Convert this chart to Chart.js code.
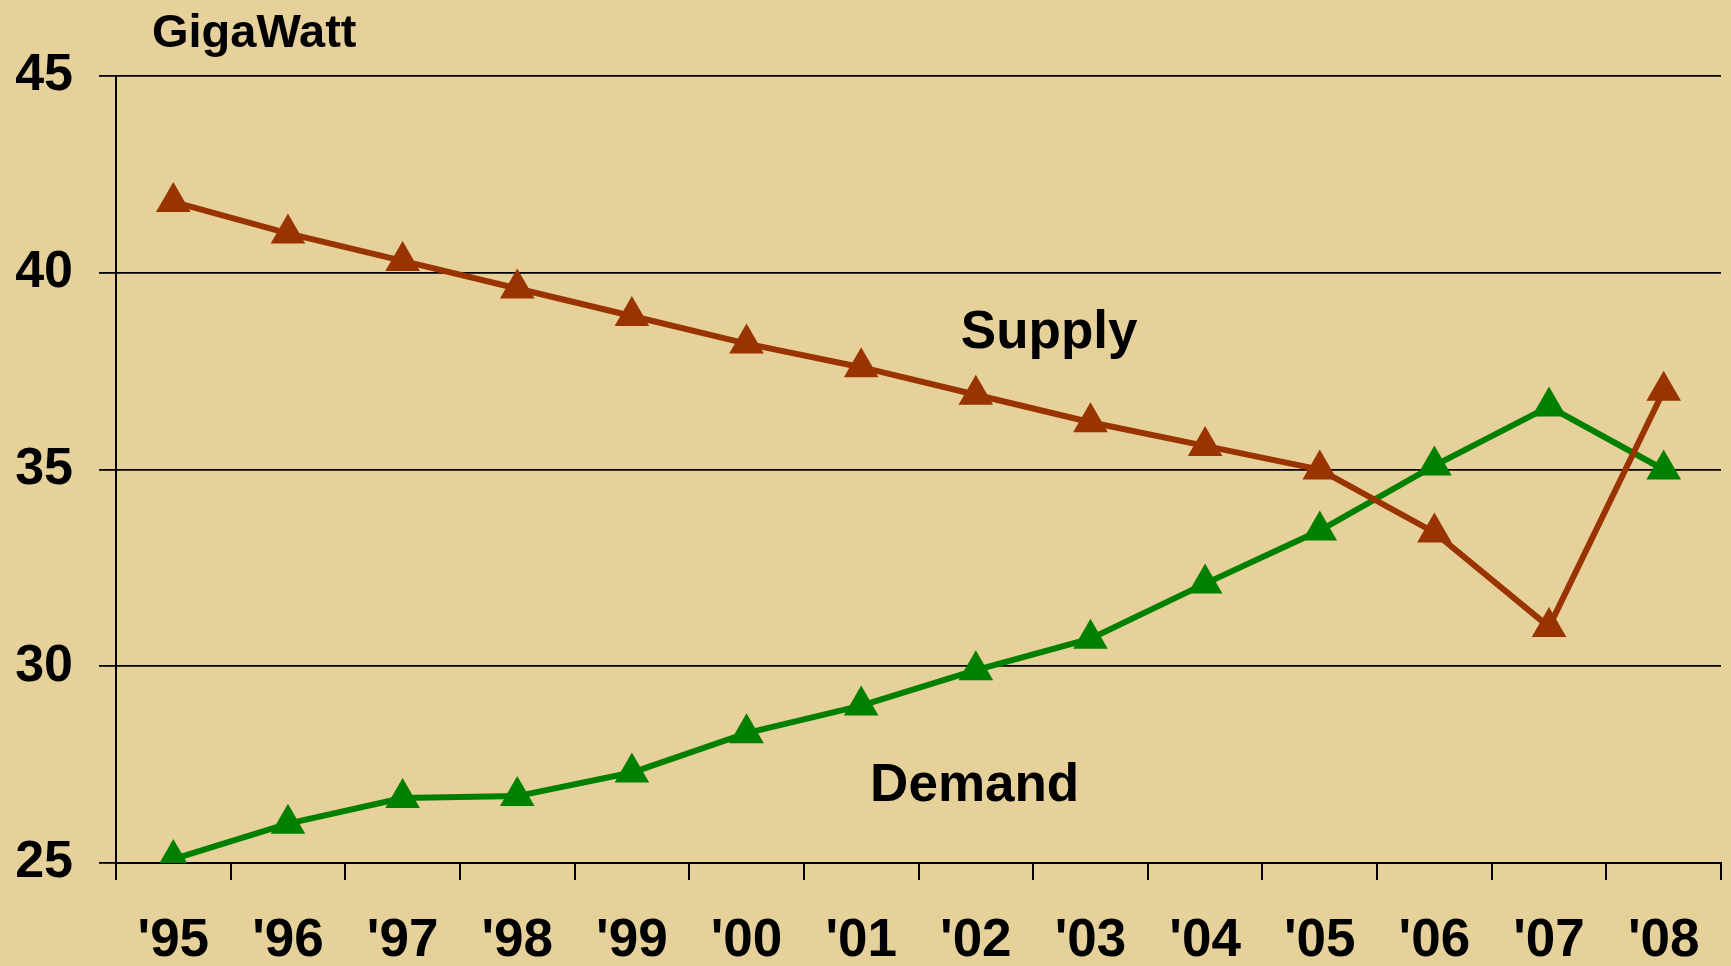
<!DOCTYPE html>
<html>
<head>
<meta charset="utf-8">
<title>Supply and Demand, GigaWatt</title>
<script src="https://cdn.jsdelivr.net/npm/chart.js"></script>
<style>
  html, body { margin: 0; padding: 0; background: #E6D19A; }
  #wrap { width: 1731px; height: 966px; }
</style>
</head>
<body>
<div id="wrap"><canvas id="chart" width="1731" height="966"></canvas></div>
<script>
// years along the bottom axis
const years = ["'95", "'96", "'97", "'98", "'99", "'00", "'01", "'02", "'03", "'04", "'05", "'06", "'07", "'08"];

// GigaWatt per year
const supply = [41.8, 41.0, 40.3, 39.6, 38.9, 38.2, 37.6, 36.9, 36.2, 35.6, 35.0, 33.4, 31.0, 37.0];
const demand = [25.1, 26.0, 26.65, 26.7, 27.3, 28.3, 29.0, 29.9, 30.7, 32.1, 33.45, 35.1, 36.6, 35.0];

// value axis
const yMin = 25, yMax = 45, yStep = 5;

const FONT = '"Liberation Sans", Arial, sans-serif';
const supplyColor = '#993300';
const demandColor = '#008000';

// axis unit and in-plot series names
const textPlugin = {
  id: 'plotText',
  afterDraw(chart) {
    const { ctx, chartArea, scales } = chart;
    ctx.save();
    ctx.fillStyle = '#000';
    ctx.font = 'bold 47px ' + FONT;
    ctx.textAlign = 'left';
    ctx.textBaseline = 'alphabetic';
    ctx.fillText('GigaWatt', chartArea.left + 36, chartArea.top - 29);

    ctx.font = 'bold 53px ' + FONT;
    ctx.textAlign = 'center';
    ctx.textBaseline = 'middle';
    ctx.fillText('Supply', scales.x.getPixelForValue(7.64), scales.y.getPixelForValue(38.45));
    ctx.fillText('Demand', scales.x.getPixelForValue(6.99), scales.y.getPixelForValue(26.95));
    ctx.restore();
  }
};

new Chart(document.getElementById('chart'), {
  type: 'line',
  data: {
    labels: years,
    datasets: [
      {
        label: 'Supply',
        data: supply,
        borderColor: supplyColor,
        backgroundColor: supplyColor,
        borderWidth: 6,
        pointStyle: 'triangle',
        pointRadius: 20,
        pointBorderWidth: 0,
        tension: 0
      },
      {
        label: 'Demand',
        data: demand,
        borderColor: demandColor,
        backgroundColor: demandColor,
        borderWidth: 6,
        pointStyle: 'triangle',
        pointRadius: 20,
        pointBorderWidth: 0,
        tension: 0
      }
    ]
  },
  options: {
    responsive: false,
    animation: false,
    layout: { autoPadding: false, padding: { top: 76, right: 10, left: 0, bottom: 0 } },
    plugins: {
      legend: { display: false },
      tooltip: { enabled: false }
    },
    scales: {
      x: {
        offset: true,
        grid: {
          offset: true,
          drawOnChartArea: false,
          drawTicks: true,
          tickLength: 17,
          color: '#000',
          lineWidth: 2
        },
        border: { color: '#000', width: 2 },
        ticks: {
          color: '#000',
          padding: 30,
          maxRotation: 0,
          autoSkip: false,
          font: { family: FONT, size: 53, weight: 'bold' }
        },
        afterFit(scale) {
          scale.height = 103;
          scale.paddingLeft = 0;
          scale.paddingRight = 0;
        }
      },
      y: {
        min: yMin,
        max: yMax,
        grid: {
          color: '#000',
          lineWidth: 1.8,
          tickLength: 17
        },
        border: { color: '#000', width: 2 },
        ticks: {
          stepSize: yStep,
          color: '#000',
          padding: 26,
          font: { family: FONT, size: 52, weight: 'bold' }
        },
        afterFit(scale) { scale.width = 116; }
      }
    }
  },
  plugins: [textPlugin]
});
</script>
</body>
</html>
